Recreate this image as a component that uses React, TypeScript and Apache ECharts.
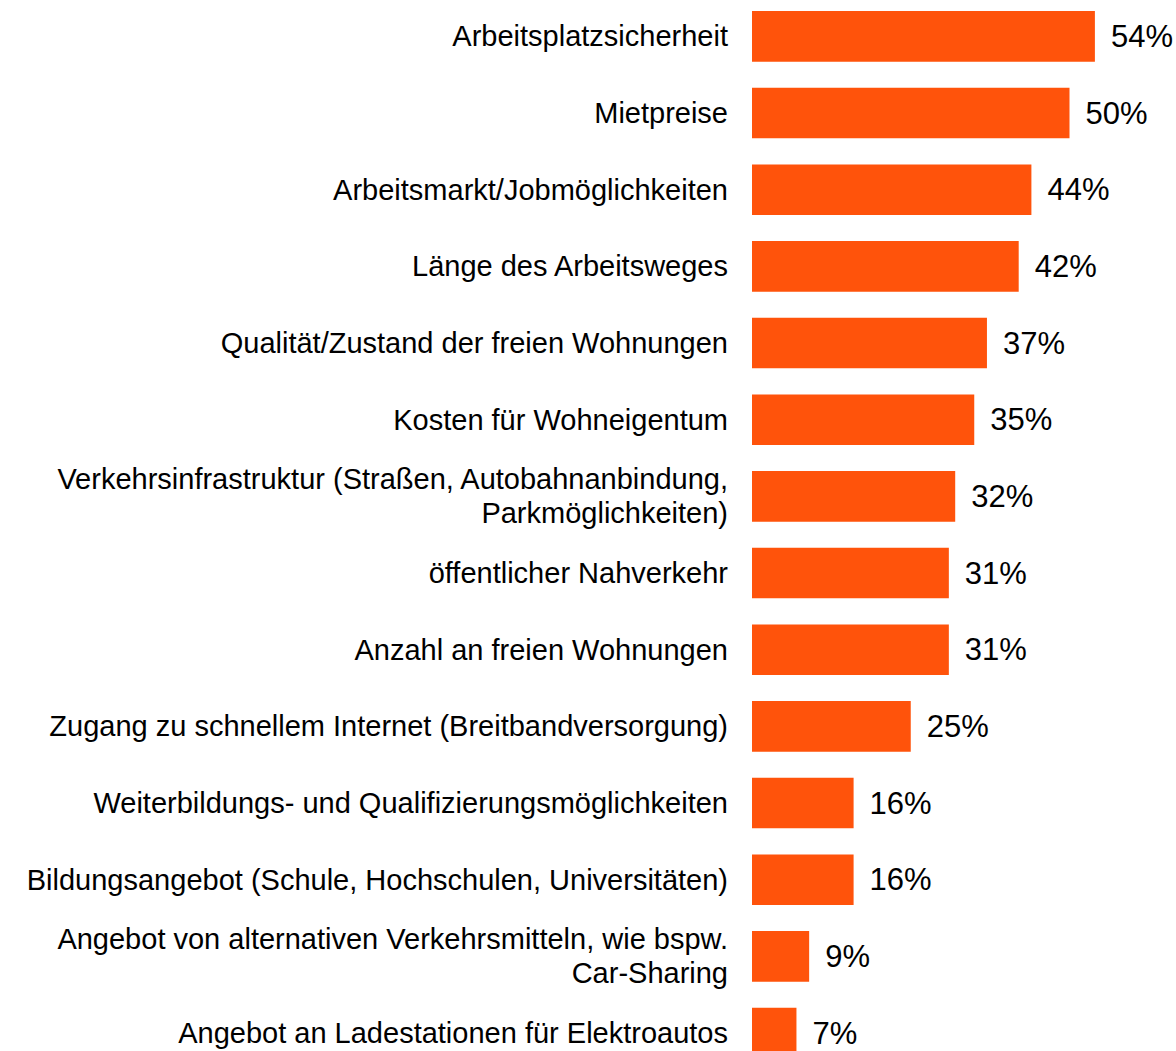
import React, { useEffect, useRef } from "react";
import * as echarts from "echarts";

const categories: string[] = [
  "Arbeitsplatzsicherheit",
  "Mietpreise",
  "Arbeitsmarkt/Jobmöglichkeiten",
  "Länge des Arbeitsweges",
  "Qualität/Zustand der freien Wohnungen",
  "Kosten für Wohneigentum",
  "Verkehrsinfrastruktur (Straßen, Autobahnanbindung,\nParkmöglichkeiten)",
  "öffentlicher Nahverkehr",
  "Anzahl an freien Wohnungen",
  "Zugang zu schnellem Internet (Breitbandversorgung)",
  "Weiterbildungs- und Qualifizierungsmöglichkeiten",
  "Bildungsangebot (Schule, Hochschulen, Universitäten)",
  "Angebot von alternativen Verkehrsmitteln, wie bspw.\nCar-Sharing",
  "Angebot an Ladestationen für Elektroautos",
];

const values: number[] = [54, 50, 44, 42, 37, 35, 32, 31, 31, 25, 16, 16, 9, 7];

const FONT = "'Liberation Sans', Arial, sans-serif";

export default function App() {
  const ref = useRef<HTMLDivElement>(null);
  useEffect(() => {
    if (!ref.current) return;
    const chart = echarts.init(ref.current, undefined, { renderer: "svg" });
    chart.setOption({
      animation: false,
      backgroundColor: "#ffffff",
      grid: { left: 752, width: 381, top: 0, height: 1073.4, containLabel: false },
      xAxis: {
        type: "value",
        min: 0,
        max: 60,
        show: false,
      },
      yAxis: {
        type: "category",
        data: categories,
        inverse: true,
        axisLine: { show: false },
        axisTick: { show: false },
        splitLine: { show: false },
        axisLabel: {
          margin: 24,
          fontFamily: FONT,
          fontSize: 29,
          lineHeight: 34,
          color: "#000000",
          align: "right",
          padding: [3, 0, 0, 0],
        },
      },
      series: [
        {
          type: "bar",
          data: values,
          barCategoryGap: "34%",
          itemStyle: { color: "#FF530B" },
          label: {
            show: true,
            position: "right",
            distance: 16,
            formatter: "{c}%",
            fontFamily: FONT,
            fontSize: 31,
            color: "#000000",
          },
        },
      ],
    });
    return () => chart.dispose();
  }, []);
  return (
    <div
      style={{
        position: "absolute",
        left: 0,
        top: 0,
        width: 1176,
        height: 1051,
        overflow: "hidden",
        background: "#ffffff",
      }}
    >
      <div
        ref={ref}
        style={{ position: "absolute", left: 0, top: -2.1, width: 1176, height: 1080 }}
      />
    </div>
  );
}
